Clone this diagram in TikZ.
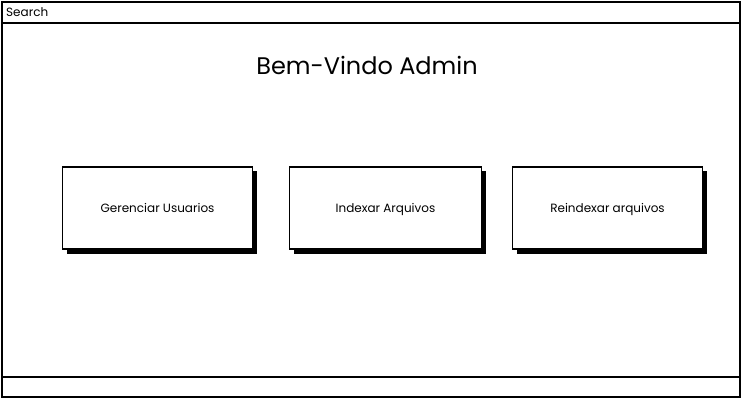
\documentclass[tikz,border=0pt]{standalone}
\usepackage{fontspec}
\setmainfont{Poppins}
\begin{document}
\begin{tikzpicture}[x=1pt,y=-1pt,
  frame/.style={draw=black,line width=2pt},
  btn/.style={draw=black,line width=1.5pt,fill=white,minimum width=190pt,minimum height=82pt,inner sep=0pt,text depth=0pt,font=\fontsize{12}{14}\selectfont},
  shadowbox/.style={fill=black}]
\useasboundingbox (0,0) rectangle (742,400);
% outer frame
\draw[frame] (2,1.5) rectangle (739.5,397);
\draw[frame] (2,23) -- (739.5,23);
\draw[frame] (2,376.5) -- (739.5,376.5);
\node[anchor=west,inner sep=0pt,font=\fontsize{12}{13}\selectfont] (search) at (6,12.5) {Search};
\node[font=\fontsize{24}{30}\selectfont,inner sep=0pt] (title) at (367,65) {Bem-Vindo Admin};
% buttons
\fill[shadowbox] (67,171) rectangle (257,254);
\node[btn] (b1) at (157.5,208) {Gerenciar Usuarios};
\fill[shadowbox] (294,171) rectangle (486,254);
\node[btn,minimum width=192pt] (b2) at (385.5,208) {Indexar Arquivos};
\fill[shadowbox] (517,171) rectangle (707,254);
\node[btn] (b3) at (607.5,208) {Reindexar arquivos};
\end{tikzpicture}
\end{document}
